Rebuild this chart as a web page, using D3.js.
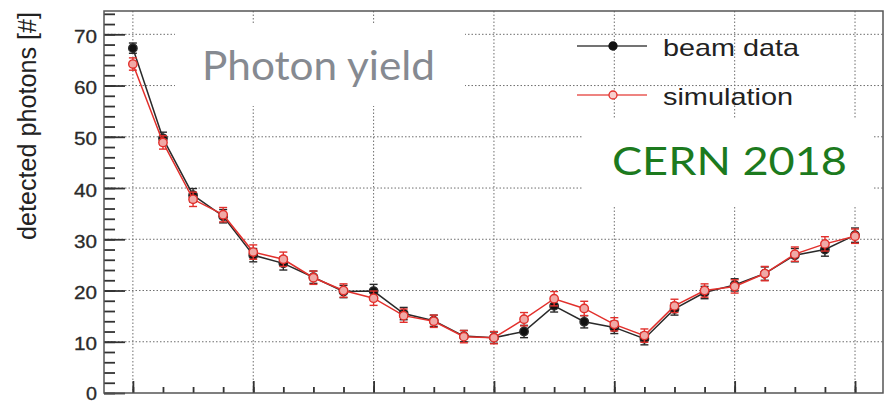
<!DOCTYPE html>
<html>
<head>
<meta charset="utf-8">
<script src="https://cdn.jsdelivr.net/npm/d3@7"></script>
<style>
  html, body { margin: 0; padding: 0; background: #fff; }
  svg { display: block; }
</style>
</head>
<body>
<svg id="chart" width="885" height="402"></svg>
<script>
// Scan positions (bin index along the beam scan)
const positions = [0, 1, 2, 3, 4, 5, 6, 7, 8, 9, 10, 11, 12, 13, 14, 15, 16, 17, 18, 19, 20, 21, 22, 23, 24];

// Detected photons per position: measured beam data and simulation
const beamData = [67.3, 49.7, 38.6, 34.5, 26.9, 25.3, 22.6, 19.8, 19.9, 15.5, 14.1, 11.1, 10.8,
                  12.0, 17.0, 13.9, 12.8, 10.6, 16.4, 19.6, 21.1, 23.3, 26.9, 28.0, 30.8];
const beamErr  = [1.0, 1.2, 1.3, 1.3, 1.3, 1.3, 1.2, 1.2, 1.3, 1.2, 1.1, 1.1, 1.1,
                  1.2, 1.2, 1.2, 1.2, 1.2, 1.2, 1.2, 1.2, 1.3, 1.3, 1.3, 1.4];
const simulation = [64.2, 48.9, 37.8, 34.8, 27.5, 26.1, 22.5, 20.0, 18.5, 15.1, 14.0, 11.0, 10.8,
                    14.4, 18.4, 16.5, 13.4, 11.2, 17.0, 20.0, 20.8, 23.3, 27.1, 29.1, 30.6];
const simErr     = [1.2, 1.3, 1.4, 1.4, 1.4, 1.4, 1.3, 1.3, 1.4, 1.3, 1.2, 1.2, 1.2,
                    1.3, 1.4, 1.4, 1.3, 1.3, 1.3, 1.3, 1.3, 1.4, 1.4, 1.4, 1.4];

// Axis ticks
const yMajorTicks = [0, 10, 20, 30, 40, 50, 60, 70];
const yMinorTicks = d3.range(0, 75, 2);
const xMajorTicks = [0, 4, 8, 12, 16, 20, 24];

const seriesNames = ["beam data", "simulation"];
const yTitle = "detected photons [#]";
const titleText = "Photon yield";
const tagText = "CERN 2018";

// ---- layout ----
const frame = { left: 104, right: 883, top: 11, bottom: 393 };
const svg = d3.select("#chart");

const x = d3.scaleLinear().domain([-0.96, 24.93]).range([frame.left, frame.right]);
const y = d3.scaleLinear().domain([0, 74.55]).range([frame.bottom, frame.top]);

// dotted grid
const grid = svg.append("g").attr("stroke", "#6e6e6e").attr("stroke-width", 1)
  .attr("stroke-dasharray", "1.5,2");
grid.selectAll("line.h").data(yMajorTicks.filter(d => d > 0)).join("line")
  .attr("x1", frame.left).attr("x2", frame.right)
  .attr("y1", d => y(d)).attr("y2", d => y(d));
grid.selectAll("line.v").data(xMajorTicks).join("line")
  .attr("x1", d => x(d)).attr("x2", d => x(d))
  .attr("y1", frame.top).attr("y2", frame.bottom);

// white panels behind the annotation texts
svg.append("rect").attr("x", 175).attr("y", 24).attr("width", 290).attr("height", 82).attr("fill", "#fff");
svg.append("rect").attr("x", 582).attr("y", 118).attr("width", 291).attr("height", 89).attr("fill", "#fff");

// axes (ticks drawn inward, ROOT style)
const yAxisMinor = d3.axisLeft(y).tickValues(yMinorTicks).tickSize(-11).tickFormat("");
const yAxisMajor = d3.axisLeft(y).tickValues(yMajorTicks).tickSize(-21).tickPadding(7);
const gyMin = svg.append("g").attr("transform", `translate(${frame.left},0)`).call(yAxisMinor);
const gyMaj = svg.append("g").attr("transform", `translate(${frame.left},0)`).call(yAxisMajor);
[gyMin, gyMaj].forEach(g => {
  g.select(".domain").remove();
  g.selectAll(".tick line").attr("stroke", "#333").attr("stroke-width", 1.8);
});
gyMaj.selectAll(".tick text")
  .attr("font-family", "'Liberation Sans', Arial, sans-serif")
  .attr("font-size", 18)
  .attr("fill", "#2a2a2a")
  .attr("stroke", "#2a2a2a").attr("stroke-width", 0.3)
  .attr("dy", null)
  .attr("y", d => d === 0 ? 6 : 8)
  .attr("textLength", d => d >= 10 ? 23 : 11)
  .attr("lengthAdjust", "spacingAndGlyphs");

const xAxisMinor = d3.axisBottom(x).tickValues(positions).tickSize(-6).tickFormat("");
const xAxisMajor = d3.axisBottom(x).tickValues(xMajorTicks).tickSize(-12).tickFormat("");
[xAxisMinor, xAxisMajor].forEach(ax => {
  const g = svg.append("g").attr("transform", `translate(0,${frame.bottom})`).call(ax);
  g.select(".domain").remove();
  g.selectAll(".tick line").attr("stroke", "#333").attr("stroke-width", 1.8);
});

// frame
svg.append("rect")
  .attr("x", frame.left).attr("y", frame.top)
  .attr("width", frame.right - frame.left).attr("height", frame.bottom - frame.top)
  .attr("fill", "none").attr("stroke", "#555").attr("stroke-width", 1.5);

// data series
const series = [
  { name: seriesNames[0], values: beamData, errs: beamErr, color: "#2a2a2a", fill: "#111" },
  { name: seriesNames[1], values: simulation, errs: simErr, color: "#e2302c", fill: "#f0a9a6" }
];
const line = d3.line().x(d => x(d.x)).y(d => y(d.v));

series.forEach(s => {
  const pts = positions.map((p, i) => ({ x: p, v: s.values[i], e: s.errs[i] }));
  const g = svg.append("g");
  g.append("path").datum(pts).attr("d", line)
    .attr("fill", "none").attr("stroke", s.color).attr("stroke-width", 1.5);
  // error bars with small caps
  const eb = g.selectAll("g.err").data(pts).join("g").attr("stroke", s.color).attr("stroke-width", 1.4);
  eb.append("line").attr("x1", d => x(d.x)).attr("x2", d => x(d.x))
    .attr("y1", d => y(d.v - d.e)).attr("y2", d => y(d.v + d.e));
  eb.append("line").attr("x1", d => x(d.x) - 4).attr("x2", d => x(d.x) + 4)
    .attr("y1", d => y(d.v - d.e)).attr("y2", d => y(d.v - d.e));
  eb.append("line").attr("x1", d => x(d.x) - 4).attr("x2", d => x(d.x) + 4)
    .attr("y1", d => y(d.v + d.e)).attr("y2", d => y(d.v + d.e));
  g.selectAll("circle").data(pts).join("circle")
    .attr("cx", d => x(d.x)).attr("cy", d => y(d.v)).attr("r", 4.2)
    .attr("fill", s.fill).attr("stroke", s.color).attr("stroke-width", 1.4);
});

// legend
const legendRows = [
  { label: seriesNames[0], y: 46, base: 56, len: 136, color: "#444", fill: "#111", stroke: "#111" },
  { label: seriesNames[1], y: 95, base: 105, len: 130, color: "#e85a56", fill: "#f7d0cf", stroke: "#e2302c" }
];
legendRows.forEach(r => {
  svg.append("line").attr("x1", 577).attr("x2", 647).attr("y1", r.y).attr("y2", r.y)
    .attr("stroke", r.color).attr("stroke-width", 1.5);
  svg.append("circle").attr("cx", 613).attr("cy", r.y).attr("r", 4)
    .attr("fill", r.fill).attr("stroke", r.stroke).attr("stroke-width", 1.3);
  svg.append("text").attr("x", 663).attr("y", r.base)
    .attr("font-family", "'Liberation Sans', Arial, sans-serif").attr("font-size", 24)
    .attr("fill", "#222").attr("textLength", r.len).attr("lengthAdjust", "spacingAndGlyphs")
    .text(r.label);
});

// y-axis title
svg.append("text")
  .attr("transform", "translate(36,126) rotate(-90)")
  .attr("text-anchor", "middle")
  .attr("font-family", "'Liberation Sans', Arial, sans-serif").attr("font-size", 25)
  .attr("fill", "#222").attr("textLength", 228).attr("lengthAdjust", "spacingAndGlyphs")
  .text(yTitle);

// annotation texts
svg.append("text").attr("x", 202).attr("y", 80)
  .attr("font-family", "Lato, 'Open Sans', sans-serif").attr("font-size", 41)
  .attr("fill", "#868a91").attr("textLength", 233).attr("lengthAdjust", "spacingAndGlyphs")
  .text(titleText);
svg.append("text").attr("x", 612).attr("y", 175)
  .attr("font-family", "Lato, 'Open Sans', sans-serif").attr("font-size", 38)
  .attr("fill", "#1c7a1e").attr("textLength", 235).attr("lengthAdjust", "spacingAndGlyphs")
  .text(tagText);
</script>
</body>
</html>
